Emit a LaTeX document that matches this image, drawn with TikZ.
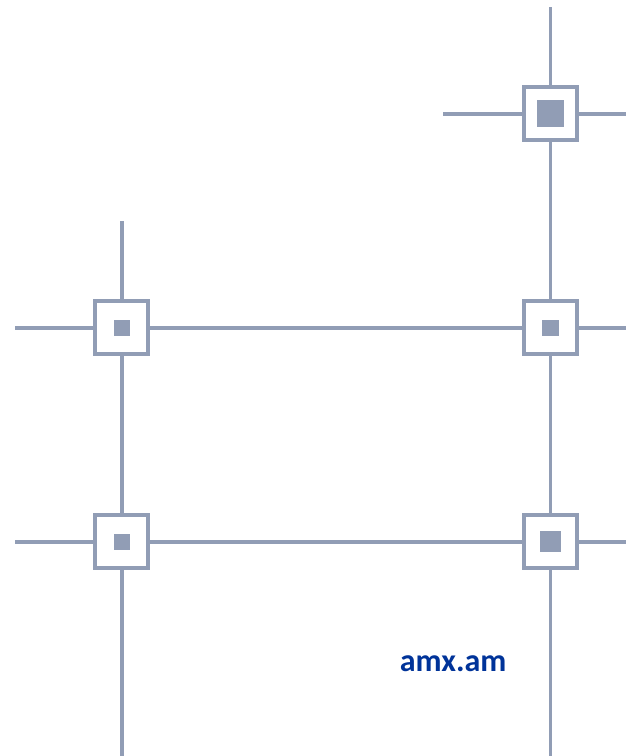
\documentclass[tikz,border=0pt]{standalone}
\usepackage{fontspec}
\setmainfont{Carlito}
\definecolor{steel}{HTML}{919DB5}
\definecolor{linkblue}{HTML}{003399}
\tikzset{
  x=1pt,y=-1pt,
  wire/.style={draw=steel,line width=3.6pt},
  frame/.style={draw=steel,fill=white,line width=4pt,rectangle,minimum size=53.3pt,inner sep=0pt,outer sep=0pt},
  core/.style={fill=steel,rectangle,minimum size=#1,inner sep=0pt,outer sep=0pt}
}
\begin{document}
\begin{tikzpicture}
\useasboundingbox (0,0) rectangle (626,756);
\coordinate (tt) at (550.5,7);
\coordinate (tl) at (443,113.8);
\coordinate (tr) at (626,113.8);
\coordinate (ml) at (15,327.8);
\coordinate (mt) at (121.8,221);
\coordinate (mr) at (626,327.8);
\coordinate (bl) at (15,541.7);
\coordinate (br) at (626,541.7);
\coordinate (db) at (121.8,756);
\coordinate (eb) at (550.5,756);
\coordinate (a0) at (550.5,113.8);
\coordinate (b0) at (121.8,327.8);
\coordinate (c0) at (550.5,327.8);
\coordinate (d0) at (121.8,541.7);
\coordinate (e0) at (550.5,541.7);
\draw[wire] (tt) -- (a0) -- (c0) -- (e0) -- (eb);
\draw[wire] (tl) -- (a0) -- (tr);
\draw[wire] (mt) -- (b0) -- (d0) -- (db);
\draw[wire] (ml) -- (b0) -- (c0) -- (mr);
\draw[wire] (bl) -- (d0) -- (e0) -- (br);
\node[frame] (a) at (a0) {};
\node[frame] (b) at (b0) {};
\node[frame] (c) at (c0) {};
\node[frame] (d) at (d0) {};
\node[frame] (e) at (e0) {};
\node[core=27pt] (ac) at (a0) {};
\node[core=16.3pt] (bc) at (b0) {};
\node[core=16.3pt] (cc) at (c0) {};
\node[core=16.3pt] (dc) at (d0) {};
\node[core=21.5pt] (ec) at (e0) {};
\node[anchor=base,inner sep=0pt,text=linkblue,font=\fontsize{32}{32}\selectfont\bfseries] (lbl) at (453.2,671) {amx.am};
\end{tikzpicture}
\end{document}
